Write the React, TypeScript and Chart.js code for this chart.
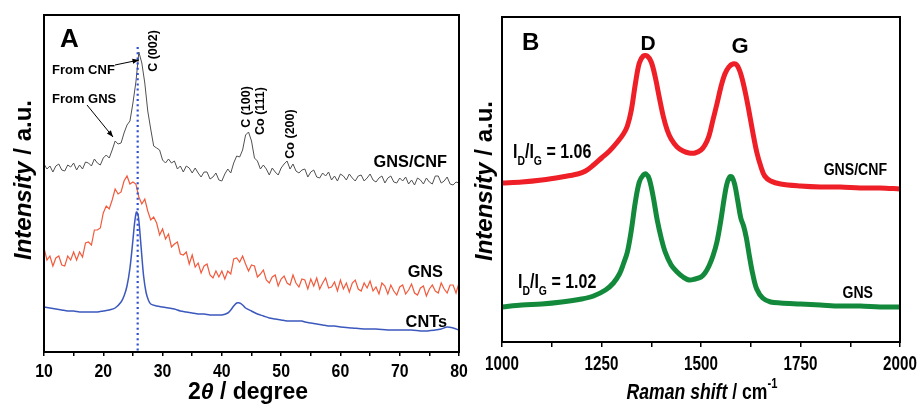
import React, { useEffect, useRef } from "react";
import { Chart, registerables } from "chart.js";
Chart.register(...registerables);

// ---------- Panel A: XRD ----------
const xrdAngle = [
  10, 10.5, 11, 11.5, 12, 12.5, 13, 13.5, 14, 14.5,
  15, 15.5, 16, 16.5, 17, 17.5, 18, 18.5, 19, 19.5,
  20, 20.5, 21, 21.5, 22, 22.5, 23, 23.5, 24, 24.5,
  25, 25.5, 26, 26.5, 27, 27.5, 28, 28.5, 29, 29.5,
  30, 30.5, 31, 31.5, 32, 32.5, 33, 33.5, 34, 34.5,
  35, 35.5, 36, 36.5, 37, 37.5, 38, 38.5, 39, 39.5,
  40, 40.5, 41, 41.5, 42, 42.5, 43, 43.5, 44, 44.5,
  45, 45.5, 46, 46.5, 47, 47.5, 48, 48.5, 49, 49.5,
  50, 50.5, 51, 51.5, 52, 52.5, 53, 53.5, 54, 54.5,
  55, 55.5, 56, 56.5, 57, 57.5, 58, 58.5, 59, 59.5,
  60, 60.5, 61, 61.5, 62, 62.5, 63, 63.5, 64, 64.5,
  65, 65.5, 66, 66.5, 67, 67.5, 68, 68.5, 69, 69.5,
  70, 70.5, 71, 71.5, 72, 72.5, 73, 73.5, 74, 74.5,
  75, 75.5, 76, 76.5, 77, 77.5, 78, 78.5, 79, 79.5,
  80,
];

const gnsCnfXrd = [
  188, 183, 186, 180, 186, 188, 182, 181, 187, 185,
  189, 182, 187, 183, 190, 189, 186, 193, 189, 187,
  194, 197, 194, 202, 211, 208, 209, 219, 227, 231,
  249, 270, 300, 289, 269, 241, 223, 206, 204, 202,
  192, 189, 193, 189, 191, 183, 186, 180, 186, 184,
  179, 184, 179, 175, 180, 180, 173, 175, 179, 172,
  171, 178, 183, 179, 189, 196, 195, 202, 217, 220,
  211, 194, 191, 183, 187, 183, 177, 184, 180, 177,
  184, 188, 191, 183, 188, 181, 179, 182, 183, 175,
  180, 182, 175, 174, 179, 176, 180, 172, 176, 171,
  178, 176, 172, 178, 174, 171, 176, 177, 171, 174,
  178, 172, 170, 174, 176, 169, 174, 176, 170, 169,
  174, 171, 175, 168, 172, 167, 174, 172, 168, 174,
  170, 168, 176, 176, 169, 171, 175, 168, 167, 170,
  169,
];

const gnsXrd = [
  104, 92, 96, 86, 94, 96, 87, 86, 96, 92,
  100, 92, 100, 95, 109, 110, 107, 122, 122, 124,
  139, 146, 143, 152, 163, 158, 160, 171, 176, 168,
  170, 168, 155, 148, 153, 141, 132, 135, 129, 117,
  123, 113, 118, 105, 108, 110, 98, 97, 100, 88,
  97, 85, 89, 79, 86, 88, 77, 74, 81, 75,
  81, 73, 81, 78, 93, 94, 90, 96, 88, 81,
  87, 86, 75, 78, 82, 72, 69, 75, 77, 66,
  73, 76, 69, 67, 77, 69, 65, 73, 72, 63,
  73, 66, 74, 63, 69, 74, 64, 65, 70, 61,
  72, 63, 69, 60, 69, 72, 63, 61, 69, 64,
  71, 61, 65, 58, 69, 66, 58, 67, 61, 57,
  65, 67, 58, 62, 68, 59, 57, 64, 66, 56,
  63, 67, 61, 59, 69, 63, 59, 67, 67, 59,
  69,
];

const cntAngle = [
  10, 11, 12, 13, 14, 15, 16, 17, 18, 19,
  20, 21, 22, 23, 23.5, 24, 24.5, 25, 25.3, 25.6,
  25.9, 26.2, 26.5, 26.8, 27.2, 27.6, 28, 29, 30, 31,
  32, 33, 34, 35, 36, 37, 38, 39, 40, 41,
  41.5, 42, 42.5, 43, 43.5, 44, 45, 46, 47, 48,
  49, 50, 51, 52, 53, 53.5, 54, 55, 56, 57,
  58, 59, 60, 62, 64, 66, 68, 70, 72, 74,
  76, 77, 78, 79, 80,
];
const cntXrd = [
  45, 44, 43, 42, 41, 41, 40, 40, 40, 40,
  41, 42, 44, 50, 56, 66, 84, 112, 130, 140,
  136, 118, 96, 76, 60, 52, 48, 46, 45, 44,
  43, 41, 40, 39, 38, 38, 37, 37, 37, 39,
  42, 46, 49, 49, 47, 44, 41, 38, 36, 34,
  33, 32, 31, 31, 31, 31, 30, 29, 28, 27,
  26, 26, 25, 24, 23, 23, 22, 22, 22, 21,
  22, 23, 25, 24, 22,
];

// reference line at the C(002) position
const c002Angle = [25.8, 25.8];
const c002Span = [305, 0];

// ---------- Panel B: Raman ----------
const ramanShiftGnsCnf = [
  1000, 1050, 1100, 1150, 1190, 1210, 1230, 1250, 1270, 1290,
  1305, 1315, 1325, 1335, 1345, 1355, 1365, 1375, 1385, 1395,
  1405, 1415, 1425, 1440, 1455, 1470, 1485, 1500, 1510, 1520,
  1530, 1540, 1550, 1560, 1570, 1580, 1590, 1600, 1610, 1620,
  1630, 1640, 1650, 1660, 1675, 1700, 1750, 1800, 1850, 1900,
  1950, 2000,
];
const gnsCnfRaman = [
  159, 160, 162, 165, 168, 171, 177, 184, 191, 200,
  208, 216, 232, 258, 279, 286, 286, 280, 265, 245,
  226, 212, 203, 195, 191, 189, 189, 192, 197, 206,
  222, 238, 255, 268, 275, 278, 277, 268, 252, 232,
  210, 190, 176, 166, 161, 158, 156, 155, 155, 154,
  154, 153,
];

const ramanShiftGns = [
  1000, 1050, 1100, 1150, 1200, 1230, 1260, 1280, 1295, 1305,
  1315, 1325, 1335, 1345, 1355, 1362, 1370, 1380, 1390, 1400,
  1410, 1425, 1440, 1455, 1470, 1485, 1500, 1510, 1520, 1530,
  1540, 1550, 1558, 1565, 1572, 1578, 1585, 1592, 1600, 1607,
  1614, 1622, 1630, 1640, 1655, 1675, 1700, 1750, 1800, 1850,
  1900, 1950, 2000,
];
const gnsRaman = [
  35, 37, 38, 40, 43, 46, 52, 59, 68, 78,
  90, 112, 140, 160, 167, 168, 163, 145, 122, 104,
  90, 77, 70, 65, 62, 63, 65, 69, 76, 86,
  100, 122, 143, 158, 165, 165, 157, 142, 124, 116,
  104, 85, 68, 53, 44, 40, 39, 38, 37, 36,
  36, 35, 35,
];

const FONT = '"Liberation Sans", Arial, Helvetica, sans-serif';

type Part = { t: string; font: string; dy?: number };

function runs(
  ctx: CanvasRenderingContext2D,
  parts: Part[],
  x: number,
  y: number,
  align: "left" | "center" | "right",
  rot = 0,
  sx = 1
) {
  ctx.save();
  ctx.translate(x, y);
  if (rot) ctx.rotate(rot);
  ctx.scale(sx, 1);
  ctx.textBaseline = "alphabetic";
  ctx.textAlign = "left";
  ctx.fillStyle = "#000";
  let total = 0;
  for (const p of parts) {
    ctx.font = p.font;
    total += ctx.measureText(p.t).width;
  }
  let cx = align === "center" ? -total / 2 : align === "right" ? -total : 0;
  for (const p of parts) {
    ctx.font = p.font;
    ctx.fillText(p.t, cx, p.dy ?? 0);
    cx += ctx.measureText(p.t).width;
  }
  ctx.restore();
}

function arrow(ctx: CanvasRenderingContext2D, x1: number, y1: number, x2: number, y2: number) {
  ctx.save();
  ctx.strokeStyle = "#000";
  ctx.fillStyle = "#000";
  ctx.lineWidth = 1;
  ctx.beginPath();
  ctx.moveTo(x1, y1);
  ctx.lineTo(x2, y2);
  ctx.stroke();
  const a = Math.atan2(y2 - y1, x2 - x1);
  const L = 6.5, W = 2.6;
  ctx.beginPath();
  ctx.moveTo(x2, y2);
  ctx.lineTo(x2 - L * Math.cos(a) + W * Math.sin(a), y2 - L * Math.sin(a) - W * Math.cos(a));
  ctx.lineTo(x2 - L * Math.cos(a) - W * Math.sin(a), y2 - L * Math.sin(a) + W * Math.cos(a));
  ctx.closePath();
  ctx.fill();
  ctx.restore();
}

const pts = (xs: number[], ys: number[]) => xs.map((x, i) => ({ x, y: ys[i] }));

const bold = (px: number, italic = false) => `${italic ? "italic " : ""}bold ${px}px ${FONT}`;

const panelAPlugin = {
  id: "panelA",
  afterDraw(chart: any) {
    const { ctx, chartArea: ca, scales } = chart;
    ctx.save();
    ctx.strokeStyle = "#000";
    ctx.lineWidth = 2;
    ctx.strokeRect(ca.left, ca.top, ca.right - ca.left, ca.bottom - ca.top);
    ctx.restore();
    const xs = scales.x;
    for (const t of xs.ticks) {
      if (t.value % 10 === 0) {
        runs(ctx, [{ t: String(t.value), font: bold(18) }], xs.getPixelForValue(t.value), 377, "center", 0, 0.88);
      }
    }
    // axis titles
    runs(ctx, [
      { t: "2", font: bold(23) },
      { t: "θ", font: bold(23, true) },
      { t: " / degree", font: bold(23) },
    ], 248, 399, "center");
    runs(ctx, [
      { t: "Intensity", font: bold(24, true) },
      { t: " / a.u.", font: bold(24) },
    ], 31, 180, "center", -Math.PI / 2);
    // panel label
    runs(ctx, [{ t: "A", font: bold(26) }], 60, 47, "left");
    // annotations
    runs(ctx, [{ t: "From CNF", font: bold(13) }], 52, 74, "left");
    runs(ctx, [{ t: "From GNS", font: bold(13) }], 52, 103, "left");
    arrow(ctx, 115, 65, 139, 60);
    arrow(ctx, 87, 105, 113, 137);
    runs(ctx, [{ t: "C (002)", font: bold(12.5) }], 157, 51, "center", -Math.PI / 2);
    runs(ctx, [{ t: "C (100)", font: bold(12.5) }], 250, 107, "center", -Math.PI / 2);
    runs(ctx, [{ t: "Co (111)", font: bold(12.5) }], 264, 111, "center", -Math.PI / 2);
    runs(ctx, [{ t: "Co (200)", font: bold(12.5) }], 294, 134, "center", -Math.PI / 2);
    runs(ctx, [{ t: "GNS/CNF", font: bold(17) }], 447, 167, "right", 0, 0.96);
    runs(ctx, [{ t: "GNS", font: bold(17) }], 443, 277, "right", 0, 0.96);
    runs(ctx, [{ t: "CNTs", font: bold(17) }], 447, 327, "right", 0, 0.96);
  },
};

const panelBPlugin = {
  id: "panelB",
  afterDraw(chart: any) {
    const { ctx, chartArea: ca, scales } = chart;
    ctx.save();
    ctx.strokeStyle = "#000";
    ctx.lineWidth = 2;
    ctx.strokeRect(ca.left, ca.top, ca.right - ca.left, ca.bottom - ca.top);
    ctx.restore();
    const xs = scales.x;
    for (const t of xs.ticks) {
      if (t.value % 250 === 0) {
        runs(ctx, [{ t: String(t.value), font: bold(20) }], xs.getPixelForValue(t.value), 370, "center", 0, 0.76);
      }
    }
    runs(ctx, [
      { t: "Raman shift", font: bold(22, true) },
      { t: " / cm", font: bold(22) },
      { t: "-1", font: bold(14), dy: -11 },
    ], 232, 399, "center", 0, 0.8);
    runs(ctx, [
      { t: "Intensity", font: bold(24, true) },
      { t: " / a.u.", font: bold(24) },
    ], 22, 181, "center", -Math.PI / 2);
    runs(ctx, [{ t: "B", font: bold(24) }], 52, 50, "left");
    runs(ctx, [{ t: "D", font: bold(21) }], 178, 50, "center");
    runs(ctx, [{ t: "G", font: bold(22) }], 270, 53, "center");
    runs(ctx, [
      { t: "I", font: bold(20) },
      { t: "D", font: bold(13), dy: 7 },
      { t: "/I", font: bold(20) },
      { t: "G", font: bold(13), dy: 7 },
      { t: " = 1.06", font: bold(20) },
    ], 43, 158, "left", 0, 0.8);
    runs(ctx, [
      { t: "I", font: bold(20) },
      { t: "D", font: bold(13), dy: 7 },
      { t: "/I", font: bold(20) },
      { t: "G", font: bold(13), dy: 7 },
      { t: " = 1.02", font: bold(20) },
    ], 48, 288, "left", 0, 0.8);
    runs(ctx, [{ t: "GNS/CNF", font: bold(16) }], 417, 175, "right", 0, 0.88);
    runs(ctx, [{ t: "GNS", font: bold(16) }], 403, 298, "right", 0, 0.88);
  },
};

const axisCommon = (tickLength: number) => ({
  grid: { drawOnChartArea: false, drawTicks: true, tickLength, color: "#000", lineWidth: 1.5 },
  border: { display: true, color: "#000", width: 2 },
});

export default function App() {
  const refA = useRef<HTMLCanvasElement>(null);
  const refB = useRef<HTMLCanvasElement>(null);

  useEffect(() => {
    const chartA = new Chart(refA.current!, {
      type: "line",
      data: {
        datasets: [
          {
            data: pts(c002Angle, c002Span),
            borderColor: "#2d4fd2",
            borderWidth: 2.2,
            borderDash: [2, 3.2],
            pointRadius: 0,
            fill: false,
          },
          {
            data: pts(xrdAngle, gnsCnfXrd),
            borderColor: "#505050",
            borderWidth: 1,
            pointRadius: 0,
            tension: 0,
            fill: false,
          },
          {
            data: pts(xrdAngle, gnsXrd),
            borderColor: "#f25a3c",
            borderWidth: 1.2,
            pointRadius: 0,
            tension: 0,
            fill: false,
          },
          {
            data: pts(cntAngle, cntXrd),
            borderColor: "#3b58bd",
            borderWidth: 1.5,
            pointRadius: 0,
            tension: 0.3,
            fill: false,
          },
        ],
      },
      options: {
        responsive: false,
        animation: false,
        devicePixelRatio: 1,
        events: [],
        layout: { padding: { left: 44, right: 11, top: 15, bottom: 14 } },
        plugins: { legend: { display: false }, tooltip: { enabled: false } },
        scales: {
          x: {
            type: "linear",
            min: 10,
            max: 80,
            afterFit: (s: any) => { s.height = 40; },
            ticks: { display: false, stepSize: 5, autoSkip: false },
            ...axisCommon(4),
          },
          y: { display: false, min: 0, max: 337 },
        },
      } as any,
      plugins: [panelAPlugin],
    });

    const chartB = new Chart(refB.current!, {
      type: "line",
      data: {
        datasets: [
          {
            data: pts(ramanShiftGnsCnf, gnsCnfRaman),
            borderColor: "#ee1f26",
            borderWidth: 5,
            pointRadius: 0,
            tension: 0.35,
            fill: false,
          },
          {
            data: pts(ramanShiftGns, gnsRaman),
            borderColor: "#138a3b",
            borderWidth: 5,
            pointRadius: 0,
            tension: 0.35,
            fill: false,
          },
        ],
      },
      options: {
        responsive: false,
        animation: false,
        devicePixelRatio: 1,
        events: [],
        layout: { padding: { left: 32, right: 21, top: 17, bottom: 24 } },
        plugins: { legend: { display: false }, tooltip: { enabled: false } },
        scales: {
          x: {
            type: "linear",
            min: 1000,
            max: 2000,
            afterFit: (s: any) => { s.height = 40; },
            ticks: { display: false, stepSize: 125, autoSkip: false },
            ...axisCommon(5),
          },
          y: { display: false, min: 0, max: 325 },
        },
      } as any,
      plugins: [panelBPlugin],
    });

    return () => {
      chartA.destroy();
      chartB.destroy();
    };
  }, []);

  return (
    <div style={{ position: "absolute", left: 0, top: 0, width: 921, height: 406, background: "#fff", overflow: "hidden" }}>
      <canvas ref={refA} width={470} height={406} style={{ position: "absolute", left: 0, top: 0, width: 470, height: 406 }} />
      <canvas ref={refB} width={451} height={406} style={{ position: "absolute", left: 470, top: 0, width: 451, height: 406 }} />
    </div>
  );
}
